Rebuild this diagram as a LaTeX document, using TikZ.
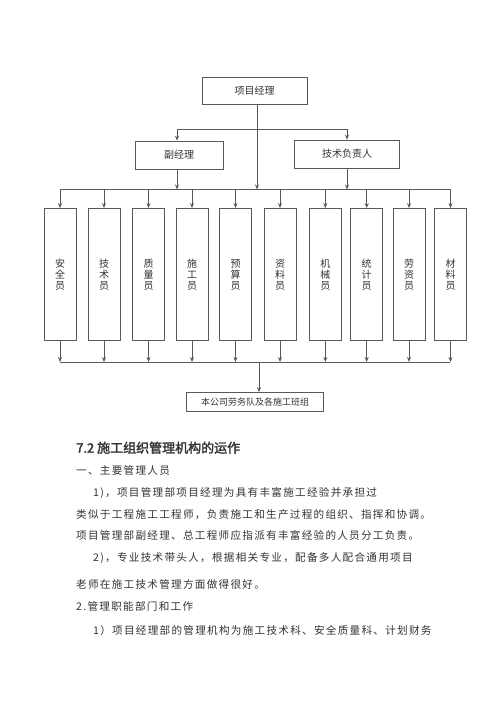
\documentclass[tikz,border=0pt]{standalone}
\usepackage{fontspec}
\newfontfamily\cjk[AutoFakeBold=2]{Noto Sans CJK SC}
\newfontfamily\cjkt[LetterSpace=12,AutoFakeBold=2]{Noto Sans CJK SC}
\usetikzlibrary{arrows.meta}
\definecolor{ln}{gray}{0.35}
\definecolor{tx}{gray}{0.2}
\tikzset{
  box/.style={draw=ln, line width=0.8pt, inner sep=0pt, text=tx, font=\cjk\fontsize{10}{11}\selectfont},
  vbox/.style={box, minimum width=32pt, minimum height=132pt, align=center},
  conn/.style={draw=ln, line width=0.8pt},
  arr/.style={conn, -{Stealth[length=5pt,width=4pt]}},
  para/.style={anchor=west, inner sep=0pt, text=tx, font=\cjkt\fontsize{10.6}{12}\selectfont}
}
\begin{document}
\begin{tikzpicture}[x=1pt,y=-1pt]
\useasboundingbox[fill=white] (0,0) rectangle (500,708);
% top boxes
\node[box, minimum width=105pt, minimum height=27pt] (pm) at (254.5,90.5) {项目经理};
\node[box, minimum width=88pt, minimum height=28pt] (vice) at (179,155) {副经理};
\node[box, minimum width=105pt, minimum height=28pt] (tech) at (347,154) {技术负责人};
% bus coordinates
\coordinate (t1) at (177,129);
\coordinate (t2) at (347,129);
\coordinate (pmb) at (257,104);
\coordinate (bl) at (60,189.5);
\coordinate (br) at (450,189.5);
% vertical staff boxes
\foreach \n/\x/\t in {a/60/安\\全\\员, b/104/技\\术\\员, c/148.5/质\\量\\员, d/192/施\\工\\员, e/235.5/预\\算\\员, f/280/资\\料\\员, g/325.3/机\\械\\员, h/366.7/统\\计\\员, i/409/劳\\资\\员, j/450.5/材\\料\\员}{
  \node[vbox] (\n) at (\x,274.5) {\t};
}
% bottom box
\node[box, minimum width=137pt, minimum height=19pt, font=\cjk\fontsize{9}{10}\selectfont] (team) at (255,402) {本公司劳务队及各施工班组};
% connectors top
\draw[conn] (t1) -- (t2);
\draw[arr] (t1) -- (vice.north -| t1);
\draw[arr] (t2) -- (tech.north -| t2);
\draw[arr] (pmb) -- (pmb |- bl);
\draw[arr] (vice.south -| t1) -- (t1 |- bl);
\draw[arr] (tech.south -| t2) -- (t2 |- bl);
\draw[conn] (bl) -- (br);
\foreach \n in {a,b,c,d,e,f,g,h,i,j}{
  \draw[arr] (\n.north |- bl) -- (\n.north);
}
% bottom bus
\coordinate (ql) at (60,362);
\coordinate (qr) at (450,362);
\foreach \n in {a,b,c,d,e,f,g,h,i,j}{
  \draw[arr] (\n.south) -- (\n.south |- ql);
}
\draw[conn] (ql) -- (qr);
\coordinate (qm) at (259,362);
\draw[arr] (qm) -- (qm |- team.north);
% text
\node[para, font=\cjk\fontsize{13}{14}\selectfont\bfseries] (h1) at (76,447.7) {7.2 施工组织管理机构的运作};
\node[para] (p1) at (76,470) {一、主要管理人员};
\node[para] (p2) at (93,493.3) {1)，项目管理部项目经理为具有丰富施工经验并承担过};
\node[para] (p3) at (76,514.3) {类似于工程施工工程师，负责施工和生产过程的组织、指挥和协调。};
\node[para] (p4) at (76,535.7) {项目管理部副经理、总工程师应指派有丰富经验的人员分工负责。};
\node[para] (p5) at (93,558.3) {2)，专业技术带头人，根据相关专业，配备多人配合通用项目};
\node[para] (p6) at (76,584) {老师在施工技术管理方面做得很好。};
\node[para] (p7) at (76,606) {2.管理职能部门和工作};
\node[para] (p8) at (93,630) {1）项目经理部的管理机构为施工技术科、安全质量科、计划财务};
\end{tikzpicture}
\end{document}
